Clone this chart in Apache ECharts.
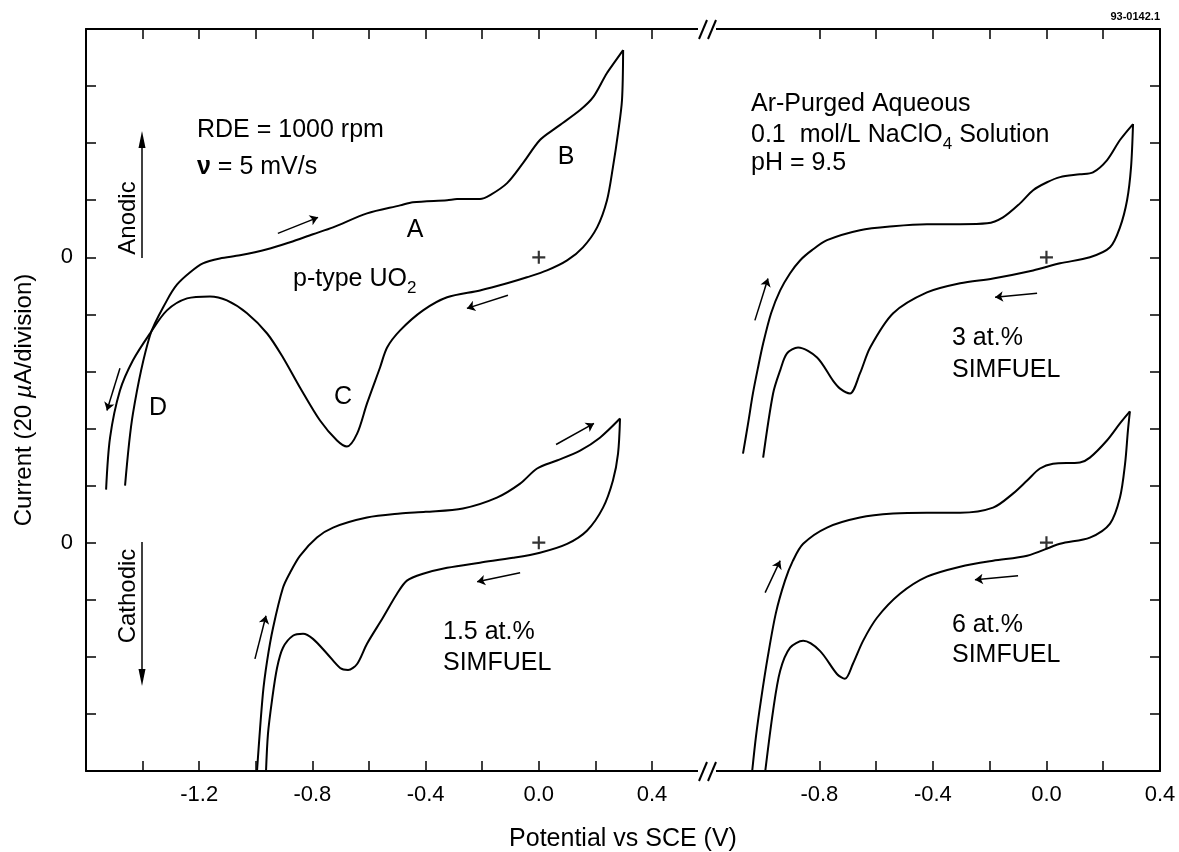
<!DOCTYPE html>
<html>
<head>
<meta charset="utf-8">
<script src="https://cdn.jsdelivr.net/npm/echarts@6/dist/echarts.min.js"></script>
<style>
html, body { margin: 0; padding: 0; background: #fff; }
#chart { width: 1179px; height: 852px; }
</style>
</head>
<body>
<div id="chart"></div>
<script>
// potential (V vs SCE), current (µA) -- each panel relative to its own zero
var ptypeForward = [[-1.462,-80],[-1.434,-54.7],[-1.374,-27.4],[-1.314,-15.1],[-1.278,-9.5],[-1.233,-5.3],[-1.187,-2.1],[-1.127,-0.4],[-1.056,0.7],[-0.960,2.8],[-0.879,5.3],[-0.798,8.1],[-0.727,10.5],[-0.607,15.4],[-0.490,18.2],[-0.445,19.3],[-0.324,20.0],[-0.289,20.4],[-0.208,20.4],[-0.172,21.8],[-0.112,26.0],[-0.056,33.0],[0.004,41.1],[0.064,45.6],[0.146,51.6],[0.192,56.1],[0.241,64.6],[0.298,72.6]];
var ptypeReverse = [[0.298,72.6],[0.294,55.1],[0.280,43.5],[0.262,31.6],[0.241,20.0],[0.206,10.5],[0.156,3.5],[0.100,-1.1],[0.029,-4.6],[-0.042,-7.0],[-0.112,-9.1],[-0.208,-11.6],[-0.324,-14.0],[-0.409,-18.6],[-0.490,-25.6],[-0.536,-31.6],[-0.561,-38.6],[-0.607,-51.2],[-0.642,-61.8],[-0.678,-66.3],[-0.713,-64.2],[-0.773,-57.2],[-0.844,-45.6],[-0.904,-35.1],[-0.960,-26.7],[-1.031,-19.6],[-1.102,-15.1],[-1.162,-13.7],[-1.243,-14.4],[-1.314,-18.6],[-1.374,-26.7],[-1.434,-36.1],[-1.480,-46.7],[-1.515,-63.2],[-1.529,-81.4]];

var sim15Forward = [[-0.996,-80.4],[-0.975,-53.0],[-0.960,-41.4],[-0.939,-29.8],[-0.904,-15.8],[-0.879,-10.5],[-0.844,-4.6],[-0.784,1.8],[-0.727,5.3],[-0.607,8.8],[-0.490,10.2],[-0.400,10.8],[-0.268,12.0],[-0.148,15.8],[-0.066,20.7],[-0.006,26.0],[0.064,28.8],[0.146,32.3],[0.216,36.8],[0.287,43.5]];
var sim15Reverse = [[0.287,43.5],[0.280,31.2],[0.262,21.8],[0.227,12.3],[0.170,4.2],[0.100,-0.4],[0.004,-3.5],[-0.091,-5.3],[-0.208,-7.0],[-0.324,-8.8],[-0.409,-10.9],[-0.466,-13.3],[-0.501,-17.9],[-0.551,-26.3],[-0.607,-35.4],[-0.642,-42.5],[-0.674,-44.6],[-0.702,-43.9],[-0.748,-38.9],[-0.798,-33.7],[-0.833,-31.9],[-0.869,-32.6],[-0.904,-36.8],[-0.925,-43.9],[-0.943,-55.4],[-0.957,-67.0],[-0.964,-80.4]];

var sim3Forward = [[-1.069,-68.8],[-1.051,-58.2],[-1.034,-47.7],[-1.016,-38.6],[-0.998,-30.2],[-0.970,-19.6],[-0.938,-11.6],[-0.903,-5.6],[-0.868,-1.1],[-0.826,2.5],[-0.773,6.0],[-0.657,9.5],[-0.540,10.9],[-0.421,11.6],[-0.304,11.6],[-0.209,11.9],[-0.153,14.0],[-0.093,18.9],[-0.047,23.5],[0.002,26.3],[0.048,28.1],[0.118,29.1],[0.164,29.8],[0.213,34.0],[0.259,41.1],[0.305,46.7]];
var sim3Reverse = [[0.305,46.7],[0.298,31.6],[0.284,20.0],[0.259,10.5],[0.224,3.5],[0.153,0],[0.048,-2.1],[-0.047,-4.6],[-0.188,-7.4],[-0.304,-9.1],[-0.421,-12.3],[-0.540,-19.6],[-0.621,-31.6],[-0.657,-40.7],[-0.692,-47.7],[-0.727,-46.0],[-0.752,-43.2],[-0.808,-35.1],[-0.875,-31.6],[-0.914,-33.7],[-0.938,-39.6],[-0.963,-47.7],[-0.998,-70.2]];

var sim6Forward = [[-1.037,-80.4],[-1.023,-67.7],[-1.006,-55.4],[-0.981,-39.6],[-0.953,-24.6],[-0.921,-13.3],[-0.893,-6.3],[-0.857,-0.4],[-0.773,5.3],[-0.657,8.8],[-0.540,10.2],[-0.421,10.5],[-0.304,10.5],[-0.188,12.3],[-0.118,17.2],[-0.068,21.8],[-0.023,26.0],[0.023,27.7],[0.118,28.1],[0.153,29.8],[0.213,35.8],[0.259,41.8],[0.294,46.0]];
var sim6Reverse = [[0.294,46.0],[0.287,39.3],[0.277,27.7],[0.259,15.8],[0.224,6.7],[0.153,1.8],[0.048,-0.4],[-0.068,-4.6],[-0.188,-6.3],[-0.304,-8.4],[-0.421,-11.9],[-0.516,-17.9],[-0.597,-26.3],[-0.646,-34.4],[-0.682,-42.5],[-0.710,-47.7],[-0.738,-46.0],[-0.798,-37.9],[-0.857,-34.4],[-0.903,-36.8],[-0.938,-44.9],[-0.963,-58.9],[-0.991,-80.4]];

// sweep direction arrows: [from, to]
var ptypeArrows = [[[-0.922,8.4],[-0.780,14.0]], [[-0.109,-13.3],[-0.254,-17.9]], [[-1.480,-38.9],[-1.526,-53.7]]];
var sim15Arrows = [[[-1.003,-40.7],[-0.964,-25.6]], [[0.061,34.4],[0.195,41.8]], [[-0.066,-10.5],[-0.218,-13.7]]];
var sim3Arrows = [[[-1.027,-22.1],[-0.981,-7.4]], [[-0.033,-12.6],[-0.181,-14.0]]];
var sim6Arrows = [[[-0.991,-17.5],[-0.938,-6.3]], [[-0.100,-11.6],[-0.252,-13.0]]];

var startMark = [[0, 0]]; // the "+" at the start potential

var leftTicks = [-1.6,-1.4,-1.2,-1.0,-0.8,-0.6,-0.4,-0.2,0,0.2,0.4];
var leftLabels = [-1.2,-0.8,-0.4,0,0.4];
var rightTicks = [-0.8,-0.6,-0.4,-0.2,0,0.2,0.4];
var rightLabels = [-0.8,-0.4,0,0.4];
var yTicks = [-80,-60,-40,-20,0,20,40,60,80,100,120,140,160,180];
var yLabels = [0, 100];

var UPPER = 100; // upper row is drawn 5 divisions (100 µA) higher
var FONT = '"Liberation Sans", Arial, Helvetica, sans-serif';
var NOTE = 25;

function shift(points, off) {
    return points.map(p => [p[0], p[1] + off]);
}

function curve(points, idx, off) {
    return {
        type: 'line', xAxisIndex: idx, yAxisIndex: idx,
        data: shift(points, off), showSymbol: false, smooth: 0.3,
        lineStyle: { color: '#000', width: 2 }, silent: true
    };
}

function arrows(list, idx, off) {
    return {
        type: 'lines', coordinateSystem: 'cartesian2d', xAxisIndex: idx, yAxisIndex: idx,
        symbol: ['none', 'arrow'], symbolSize: 8, silent: true,
        lineStyle: { color: '#000', width: 1.5, opacity: 1 },
        data: list.map(a => ({ coords: shift(a, off) }))
    };
}

function plus(idx) {
    return {
        type: 'scatter', xAxisIndex: idx, yAxisIndex: idx, silent: true,
        symbol: 'path://M5,0H7V5H12V7H7V12H5V7H0V5H5Z', symbolSize: 13,
        itemStyle: { color: '#000' },
        data: shift(startMark, UPPER).concat(shift(startMark, 0))
    };
}

function fmtX(v) {
    return Math.abs(v) < 1e-9 ? '0.0' : v.toFixed(1);
}

function xAxis(grid, pos, min, max, ticks, labels) {
    return {
        type: 'value', gridIndex: grid, position: pos, min: min, max: max, interval: 0.2,
        axisLine: { onZero: false, lineStyle: { color: '#000', width: 2 } },
        axisTick: { inside: true, length: 10, customValues: ticks, lineStyle: { color: '#000', width: 1.5 } },
        axisLabel: {
            show: pos === 'bottom', customValues: labels, formatter: fmtX, margin: 13,
            fontFamily: FONT, fontSize: 22, color: '#000'
        },
        splitLine: { show: false }
    };
}

function yAxis(grid, pos) {
    return {
        type: 'value', gridIndex: grid, position: pos, min: -80, max: 180, interval: 20,
        axisLine: { onZero: false, lineStyle: { color: '#000', width: 2 } },
        axisTick: { inside: true, length: 10, customValues: yTicks, lineStyle: { color: '#000', width: 1.5 } },
        axisLabel: {
            show: pos === 'left', customValues: yLabels, formatter: () => '0', margin: 13,
            fontFamily: FONT, fontSize: 22, color: '#000'
        },
        splitLine: { show: false }
    };
}

function txt(x, y, text, extra) {
    var style = { text: text, x: x, y: y, fill: '#000', fontFamily: FONT, fontSize: NOTE, align: 'left', verticalAlign: 'middle' };
    Object.assign(style, extra || {});
    return { type: 'text', z: 50, style: style };
}

var measure = document.createElement('canvas').getContext('2d');
function textWidth(s, size) {
    measure.font = size + 'px ' + FONT;
    return measure.measureText(s).width;
}

// text with a chemical subscript: parts = [main, sub, rest]
function subText(x, y, parts) {
    var w1 = textWidth(parts[0], NOTE);
    var w2 = textWidth(parts[1], 17);
    var out = [txt(x, y, parts[0]), txt(x + w1, y + 9, parts[1], { fontSize: 17 })];
    if (parts[2]) out.push(txt(x + w1 + w2, y, parts[2]));
    return out;
}

var chartDom = document.getElementById('chart');
var myChart = echarts.init(chartDom);

var option = {
    animation: false,
    backgroundColor: '#fff',
    grid: [
        { left: 86, top: 29, width: 622.6, height: 742, outerBoundsMode: 'none' },
        { left: 705.8, top: 29, width: 454.2, height: 742, outerBoundsMode: 'none' }
    ],
    xAxis: [
        xAxis(0, 'bottom', -1.6, 0.6, leftTicks, leftLabels),
        xAxis(1, 'bottom', -1.2, 0.4, rightTicks, rightLabels),
        xAxis(0, 'top', -1.6, 0.6, leftTicks, leftLabels),
        xAxis(1, 'top', -1.2, 0.4, rightTicks, rightLabels)
    ],
    yAxis: [
        Object.assign(yAxis(0, 'left'), {
            name: 'Current (20 {i|µ}A/division)', nameLocation: 'middle', nameGap: 50,
            nameTextStyle: {
                fontFamily: FONT, fontSize: 24, color: '#000',
                rich: { i: { fontFamily: FONT, fontSize: 24, fontStyle: 'italic', color: '#000' } }
            }
        }),
        yAxis(1, 'right')
    ],
    series: [
        curve(ptypeForward, 0, UPPER),
        curve(ptypeReverse, 0, UPPER),
        curve(sim15Forward, 0, 0),
        curve(sim15Reverse, 0, 0),
        curve(sim3Forward, 1, UPPER),
        curve(sim3Reverse, 1, UPPER),
        curve(sim6Forward, 1, 0),
        curve(sim6Reverse, 1, 0),
        arrows(ptypeArrows, 0, UPPER),
        arrows(sim15Arrows, 0, 0),
        arrows(sim3Arrows, 1, UPPER),
        arrows(sim6Arrows, 1, 0),
        plus(0),
        plus(1)
    ],
    graphic: [
        // axis break
        { type: 'rect', z: 100, shape: { x: 698, y: 17, width: 18, height: 26 }, style: { fill: '#fff' } },
        { type: 'rect', z: 100, shape: { x: 698, y: 758, width: 18, height: 26 }, style: { fill: '#fff' } },
        { type: 'line', z: 101, shape: { x1: 699, y1: 39, x2: 707, y2: 20 }, style: { stroke: '#000', lineWidth: 2 } },
        { type: 'line', z: 101, shape: { x1: 708, y1: 39, x2: 716, y2: 20 }, style: { stroke: '#000', lineWidth: 2 } },
        { type: 'line', z: 101, shape: { x1: 699, y1: 781, x2: 707, y2: 762 }, style: { stroke: '#000', lineWidth: 2 } },
        { type: 'line', z: 101, shape: { x1: 708, y1: 781, x2: 716, y2: 762 }, style: { stroke: '#000', lineWidth: 2 } },

        // anodic / cathodic arrows
        { type: 'line', z: 50, shape: { x1: 142, y1: 258, x2: 142, y2: 144 }, style: { stroke: '#000', lineWidth: 1.5 } },
        { type: 'polygon', z: 50, shape: { points: [[142, 131], [138.5, 148], [145.5, 148]] }, style: { fill: '#000' } },
        { type: 'line', z: 50, shape: { x1: 142, y1: 542, x2: 142, y2: 672 }, style: { stroke: '#000', lineWidth: 1.5 } },
        { type: 'polygon', z: 50, shape: { points: [[142, 686], [138.5, 669], [145.5, 669]] }, style: { fill: '#000' } },
        { type: 'text', z: 50, x: 128, y: 218, rotation: Math.PI / 2,
          style: { text: 'Anodic', fill: '#000', fontFamily: FONT, fontSize: 24, align: 'center', verticalAlign: 'middle' } },
        { type: 'text', z: 50, x: 128, y: 596, rotation: Math.PI / 2,
          style: { text: 'Cathodic', fill: '#000', fontFamily: FONT, fontSize: 24, align: 'center', verticalAlign: 'middle' } },

        // x axis title across both panels
        txt(623, 839, 'Potential vs SCE (V)', { align: 'center' }),
        txt(1160, 17, '93-0142.1', { align: 'right', fontSize: 11, fontWeight: 'bold' }),

        // upper left notes
        txt(197, 130, 'RDE = 1000 rpm'),
        txt(197, 167, '{b|ν}{m| = 5 mV/s}', {
            rich: {
                b: { fontFamily: FONT, fontSize: NOTE, fontWeight: 'bold', color: '#000' },
                m: { fontFamily: FONT, fontSize: NOTE, color: '#000' }
            }
        }),
        txt(415, 230, 'A', { align: 'center' }),
        txt(566, 157, 'B', { align: 'center' }),
        txt(343, 397, 'C', { align: 'center' }),
        txt(158, 408, 'D', { align: 'center' })
    ]
    .concat(subText(293, 279, ['p-type UO', '2']))
    .concat([
        // solution notes
        txt(751, 104, 'Ar-Purged Aqueous'),
        txt(751, 163, 'pH = 9.5'),
        txt(952, 338, '3 at.%'),
        txt(952, 370, 'SIMFUEL'),
        txt(443, 632, '1.5 at.%'),
        txt(443, 663, 'SIMFUEL'),
        txt(952, 625, '6 at.%'),
        txt(952, 655, 'SIMFUEL')
    ])
    .concat(subText(751, 135, ['0.1  mol/L NaClO', '4', ' Solution']))
};

myChart.setOption(option);
</script>
</body>
</html>
